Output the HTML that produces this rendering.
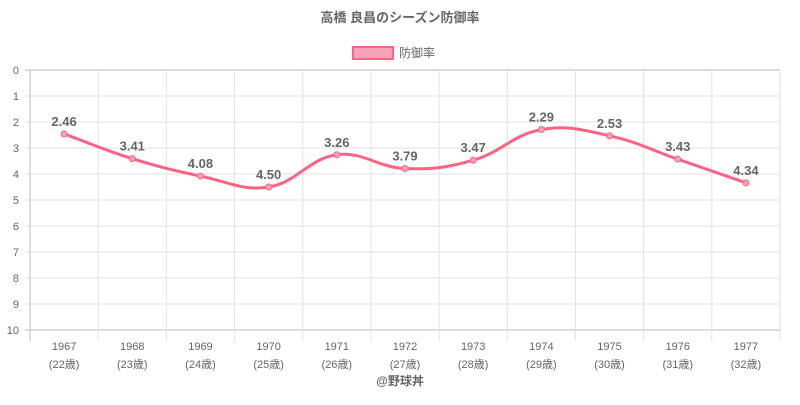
<!DOCTYPE html>
<html><head><meta charset="utf-8"><style>
body{margin:0;background:#fff;width:800px;height:400px;overflow:hidden}
text{font-family:"Liberation Sans","Noto Sans CJK JP",sans-serif}
</style></head><body>
<svg id="s" width="800" height="400" xmlns="http://www.w3.org/2000/svg">
<text x="400" y="22" text-anchor="middle" font-size="13" font-weight="bold" fill="#666">高橋 良昌のシーズン防御率</text>
<rect x="353" y="47" width="40" height="12" fill="#f5a3b8" stroke="#ff6384" stroke-width="2"/>
<text x="399" y="57" font-size="12" fill="#666">防御率</text>
<text x="400" y="385" text-anchor="middle" font-size="12" font-weight="bold" fill="#666">@野球丼</text>
<g id="g"></g>
</svg>
<script>
const g=document.getElementById('g');let h='';
const L=30,R=780,T=70,B=330,n=11,w=(R-L)/n;
for(let i=0;i<=10;i++){const y=T+i*26;h+=`<line x1="25" x2="${R}" y1="${y}" y2="${y}" stroke="${i==0||i==10?'#bbb':'#e2e2e2'}"/>`;
h+=`<text x="19" y="${y+4}" text-anchor="end" font-size="11" fill="#666">${i}</text>`;}
for(let i=0;i<=n;i++){const x=L+i*w;h+=`<line x1="${x}" x2="${x}" y1="${T}" y2="341" stroke="${i==0?'#bbb':'#e2e2e2'}"/>`;}
const v=[2.46,3.41,4.08,4.50,3.26,3.79,3.47,2.29,2.53,3.43,4.34];
const P=v.map((d,i)=>[L+w/2+i*w,T+d*26]);
for(let i=0;i<n;i++){const [x,y]=P[i];h+=`<text x="${x}" y="${y+14+4}" text-anchor="middle" font-size="11" fill="#666">${1967+i}</text><text x="${x}" y="${y}" font-size="0"></text>`;}
let lab='';
for(let i=0;i<n;i++){const x=P[i][0];lab+=`<text x="${x}" y="350" text-anchor="middle" font-size="11" fill="#666">${1967+i}</text><text x="${x}" y="368" text-anchor="middle" font-size="11" fill="#666">(${22+i}歳)</text>`;}
h=h.replace(/<text x="[\d.]+" y="[\d.]+" text-anchor="middle" font-size="11" fill="#666">19\d\d<\/text><text[^>]*font-size="0"><\/text>/g,'')+lab;
const t=0.4;let d=`M${P[0][0]},${P[0][1]}`;
const cp=i=>{const p=P[Math.max(0,i-1)],c=P[i],nx=P[Math.min(n-1,i+1)];
const d01=Math.hypot(c[0]-p[0],c[1]-p[1]),d12=Math.hypot(nx[0]-c[0],nx[1]-c[1]);
const fa=t*d01/(d01+d12||1),fb=t*d12/(d01+d12||1);
return [[c[0]-fa*(nx[0]-p[0]),c[1]-fa*(nx[1]-p[1])],[c[0]+fb*(nx[0]-p[0]),c[1]+fb*(nx[1]-p[1])]];};
for(let i=0;i<n-1;i++){const a=cp(i)[1],b=cp(i+1)[0];d+=` C${a[0]},${a[1]} ${b[0]},${b[1]} ${P[i+1][0]},${P[i+1][1]}`;}
h+=`<path d="${d}" fill="none" stroke="#ff6384" stroke-width="3"/>`;
P.forEach((p,i)=>{h+=`<circle cx="${p[0]}" cy="${p[1]}" r="3" fill="#f5a3b8" stroke="#ff6384" stroke-width="1"/>`;
h+=`<text x="${p[0]}" y="${p[1]-8}" text-anchor="middle" font-size="13" font-weight="bold" fill="#666">${v[i].toFixed(2)}</text>`;});
g.innerHTML=h;
</script>
</body></html>
